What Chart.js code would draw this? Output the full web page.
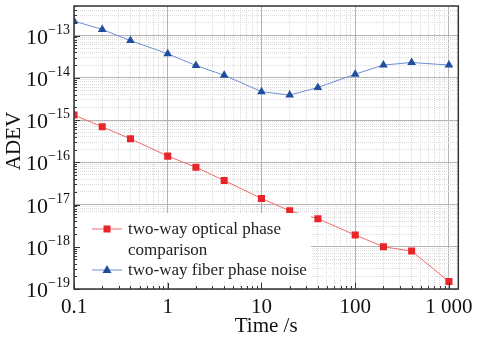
<!DOCTYPE html>
<html>
<head>
<meta charset="utf-8">
<script src="https://cdn.jsdelivr.net/npm/chart.js@4/dist/chart.umd.min.js"></script>
<style>
  html, body { margin: 0; padding: 0; background: #fff; }
  #wrap { width: 479px; height: 339px; }
</style>
</head>
<body>
<div id="wrap"><canvas id="c"></canvas></div>
<script>
// averaging time (s)
const TAU = [0.1, 0.2, 0.4, 1, 2, 4, 10, 20, 40, 100, 200, 400, 1000];
// two-way optical phase comparison
const OPTICAL = [1.31e-15, 6.9e-16, 3.6e-16, 1.4e-16, 7.6e-17, 3.7e-17, 1.39e-17, 7.1e-18, 4.6e-18, 1.9e-18, 1.0e-18, 7.9e-19, 1.5e-19];
// two-way fiber phase noise
const FIBER = [2.2e-13, 1.39e-13, 7.6e-14, 3.7e-14, 1.95e-14, 1.15e-14, 4.7e-15, 3.9e-15, 5.9e-15, 1.22e-14, 2.0e-14, 2.3e-14, 2.0e-14];

const X_TICK_LABELS = { '0.1': '0.1', '1': '1', '10': '10', '100': '100', '1000': '1 000' };
const Y_EXPONENTS = [-19, -18, -17, -16, -15, -14, -13];
const LEGEND_LABELS = [['two-way optical phase', 'comparison'], ['two-way fiber phase noise']];

const SERIF = '"Liberation Serif", "Times New Roman", serif';
const RED = '#e8262a';
const BLUE = '#1f4e9e';

const X_MIN = 0.1, X_MAX = Math.pow(10, 3.1);
const Y_MIN = 1e-19, Y_MAX = 5e-13;

function isMajor(v) {
  const l = Math.log10(v);
  return Math.abs(l - Math.round(l)) < 1e-6;
}

function logTicks(min, max) {
  const out = [];
  for (let e = Math.floor(Math.log10(min)); e <= Math.ceil(Math.log10(max)); e++) {
    for (let m = 1; m <= 9; m++) {
      const v = parseFloat((m * Math.pow(10, e)).toPrecision(4));
      if (v >= min * 0.999 && v <= max * 1.001) out.push({ value: v, major: m === 1 });
    }
  }
  return out;
}

const gridOpts = {
  color: ctx => (ctx.tick && isMajor(ctx.tick.value)) ? '#b4b4b4' : '#dcdcdc',
  lineWidth: 1,
  drawTicks: false
};
const borderOpts = {
  display: false,
  dash: ctx => (ctx.tick && isMajor(ctx.tick.value)) ? [] : [1, 1]
};

const framePlugin = {
  id: 'frame',
  afterDatasetsDraw(chart) {
    const { ctx, chartArea: a, scales: { x, y } } = chart;
    ctx.save();

    // legend box
    const lx = a.left + 1, ly = 213;
    ctx.fillStyle = '#fff';
    ctx.fillRect(lx, ly, 236, a.bottom - 7 - ly);
    ctx.font = '17px ' + SERIF;
    ctx.textBaseline = 'middle';
    ctx.textAlign = 'left';
    const rows = [
      { ds: chart.data.datasets[0], y: 229 },
      { ds: chart.data.datasets[1], y: 270 }
    ];
    rows.forEach((r, i) => {
      ctx.strokeStyle = r.ds.borderColor;
      ctx.lineWidth = 1;
      ctx.beginPath();
      ctx.moveTo(92, r.y);
      ctx.lineTo(122, r.y);
      ctx.stroke();
      ctx.fillStyle = r.ds.pointBackgroundColor;
      if (r.ds.pointStyle === 'rect') {
        ctx.fillRect(107 - 3.5, r.y - 3.5, 7, 7);
      } else {
        ctx.beginPath();
        ctx.moveTo(107, r.y - 5);
        ctx.lineTo(111.5, r.y + 3);
        ctx.lineTo(102.5, r.y + 3);
        ctx.closePath();
        ctx.fill();
      }
      ctx.fillStyle = '#222';
      LEGEND_LABELS[i].forEach((t, k) => ctx.fillText(t, 128, r.y + 1 + k * 21));
    });

    // inside tick marks
    ctx.strokeStyle = '#333';
    ctx.lineWidth = 1;
    ctx.beginPath();
    x.ticks.forEach(t => {
      const px = Math.round(x.getPixelForValue(t.value)) + 0.5;
      const len = isMajor(t.value) ? 6 : 3;
      ctx.moveTo(px, a.bottom);
      ctx.lineTo(px, a.bottom - len);
    });
    y.ticks.forEach(t => {
      const py = Math.round(y.getPixelForValue(t.value)) + 0.5;
      const len = isMajor(t.value) ? 6 : 3;
      ctx.moveTo(a.left, py);
      ctx.lineTo(a.left + len, py);
    });
    ctx.stroke();

    // frame
    ctx.strokeStyle = '#333';
    ctx.lineWidth = 1.5;
    ctx.strokeRect(a.left, a.top, a.right - a.left, a.bottom - a.top);

    // y tick labels 10^n
    ctx.fillStyle = '#111';
    ctx.textBaseline = 'alphabetic';
    Y_EXPONENTS.forEach(e => {
      const py = y.getPixelForValue(Math.pow(10, e));
      ctx.font = '14px ' + SERIF;
      const exp = '\u2212' + String(-e);
      const ew = ctx.measureText(exp).width;
      ctx.textAlign = 'right';
      ctx.fillText(exp, 70, py - 2);
      ctx.font = '22px ' + SERIF;
      ctx.fillText('10', 70 - ew, py + 8);
    });

    // y axis title
    ctx.save();
    ctx.translate(14, 141);
    ctx.rotate(-Math.PI / 2);
    ctx.font = '21px ' + SERIF;
    ctx.textAlign = 'center';
    ctx.textBaseline = 'middle';
    ctx.fillText('ADEV', 0, 0);
    ctx.restore();

    ctx.restore();
  }
};

new Chart(document.getElementById('c'), {
  type: 'line',
  data: {
    datasets: [
      {
        label: 'two-way optical phase comparison',
        data: TAU.map((t, i) => ({ x: t, y: OPTICAL[i] })),
        borderColor: '#f26b6b',
        borderWidth: 1,
        pointStyle: 'rect',
        pointRadius: 5,
        pointBackgroundColor: RED,
        pointBorderColor: RED,
        pointBorderWidth: 0
      },
      {
        label: 'two-way fiber phase noise',
        data: TAU.map((t, i) => ({ x: t, y: FIBER[i] })),
        borderColor: '#6d8fd4',
        borderWidth: 1,
        pointStyle: 'triangle',
        pointRadius: 5,
        pointBackgroundColor: BLUE,
        pointBorderColor: BLUE,
        pointBorderWidth: 0
      }
    ]
  },
  options: {
    responsive: true,
    maintainAspectRatio: false,
    animation: false,
    layout: { padding: { top: 6, right: 18 } },
    plugins: { legend: { display: false }, tooltip: { enabled: false } },
    scales: {
      x: {
        type: 'logarithmic',
        min: X_MIN,
        max: X_MAX,
        afterBuildTicks: s => { s.ticks = logTicks(X_MIN, X_MAX); },
        afterFit: s => { s.height = 50; },
        grid: gridOpts,
        border: borderOpts,
        ticks: {
          autoSkip: false,
          maxRotation: 0,
          padding: 6,
          color: '#111',
          font: { family: SERIF, size: 21 },
          callback: v => X_TICK_LABELS[String(v)] || ''
        },
        title: {
          display: true,
          text: 'Time /s',
          color: '#111',
          font: { family: SERIF, size: 21 },
          padding: { top: -4, bottom: 0 }
        }
      },
      y: {
        type: 'logarithmic',
        min: Y_MIN,
        max: Y_MAX,
        afterBuildTicks: s => { s.ticks = logTicks(Y_MIN, Y_MAX); },
        afterFit: s => { s.width = 74; },
        grid: gridOpts,
        border: borderOpts,
        ticks: { display: false }
      }
    }
  },
  plugins: [framePlugin]
});
</script>
</body>
</html>
